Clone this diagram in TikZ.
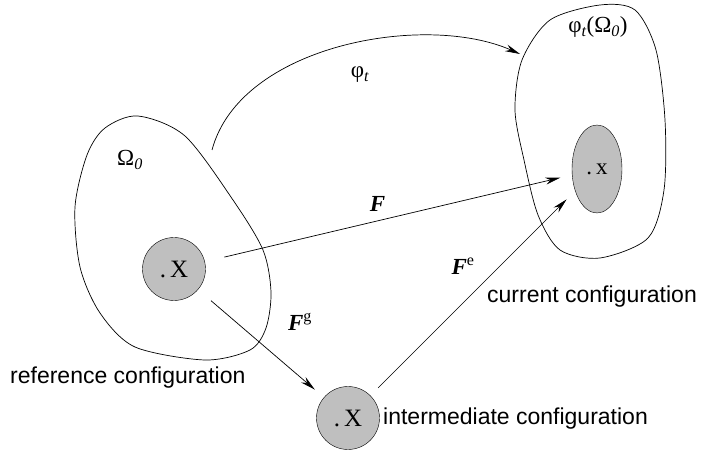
\documentclass[tikz,border=0pt]{standalone}
\usepackage{fontspec}
\setmainfont{Liberation Serif}
\newfontfamily\capfont{Liberation Sans}
\usetikzlibrary{shapes.geometric,arrows.meta,positioning}

\begin{document}
\begin{tikzpicture}[
    x=1pt, y=-1pt,
    every node/.style={font=\fontsize{23}{27}\selectfont},
    point/.style={circle, draw, fill=gray!50, minimum size=63pt, inner sep=0pt, font=\fontsize{25}{29}\selectfont},
    spot/.style={ellipse, draw, fill=gray!50, minimum width=50pt, minimum height=88pt, inner sep=0pt},
    arrow/.style={-{Stealth[length=15pt,width=7pt]}, line width=0.7pt},
    caption/.style={font=\capfont\fontsize{23}{27}\selectfont, anchor=west, inner sep=0pt},
    body/.style={line width=0.7pt}
]
\useasboundingbox (0,0) rectangle (702,454);

% Reference body
\draw[body] plot[smooth cycle] coordinates {(138,116) (185,136) (233,200) (263,250) (271,292)
  (266,328) (250,350) (205,360) (135,347) (100,313) (80,267) (75,207) (87,155) (105,128)};

% Current body
\draw[body] plot[smooth cycle] coordinates {(600,5) (635,10) (656,50) (665,120) (664,190)
  (648,238) (600,258) (560,250) (538,215) (524,160) (515,110) (522,60) (550,20)};

% Material points
\node[point] (X0) at (174,269) {.\,X};
\node[point] (Xi) at (348,418) {.\,X};
\node[spot] (xcur) at (597,169) {.\,x};

% Body labels
\node (omega) at (130,160) {Ω\textsubscript{\itshape 0}};
\node (omegat) at (598,27) {φ\textsubscript{\itshape t}(Ω\textsubscript{\itshape 0})};
\node (phi) at (360,75) {φ\textsubscript{\itshape t}};

% Captions
\node[caption] (refcap) at (10,378) {reference configuration};
\node[caption] (curcap) at (487,297) {current configuration};
\node[caption] (intcap) at (383,419) {intermediate configuration};

% Motion
\coordinate (phistart) at (212,150);
\coordinate (phiend) at (520,54);
\draw[arrow] (phistart) .. controls (240,45) and (425,12) .. (phiend);

% Deformation gradients
\draw[arrow, shorten <=20pt, shorten >=12pt] (X0) -- node[above=6pt, pos=0.47] (Flab) {\textbf{\textit{F}}} (xcur);
\draw[arrow, shorten <=17pt, shorten >=12pt] (X0) -- (Xi);
\draw[arrow, shorten <=11pt, shorten >=12pt] (Xi) -- (xcur);
\node (Fglab) at (300,322) {\textbf{\textit{F}}\textsuperscript{g}};
\node (Felab) at (463,266) {\textbf{\textit{F}}\textsuperscript{e}};

\end{tikzpicture}
\end{document}
